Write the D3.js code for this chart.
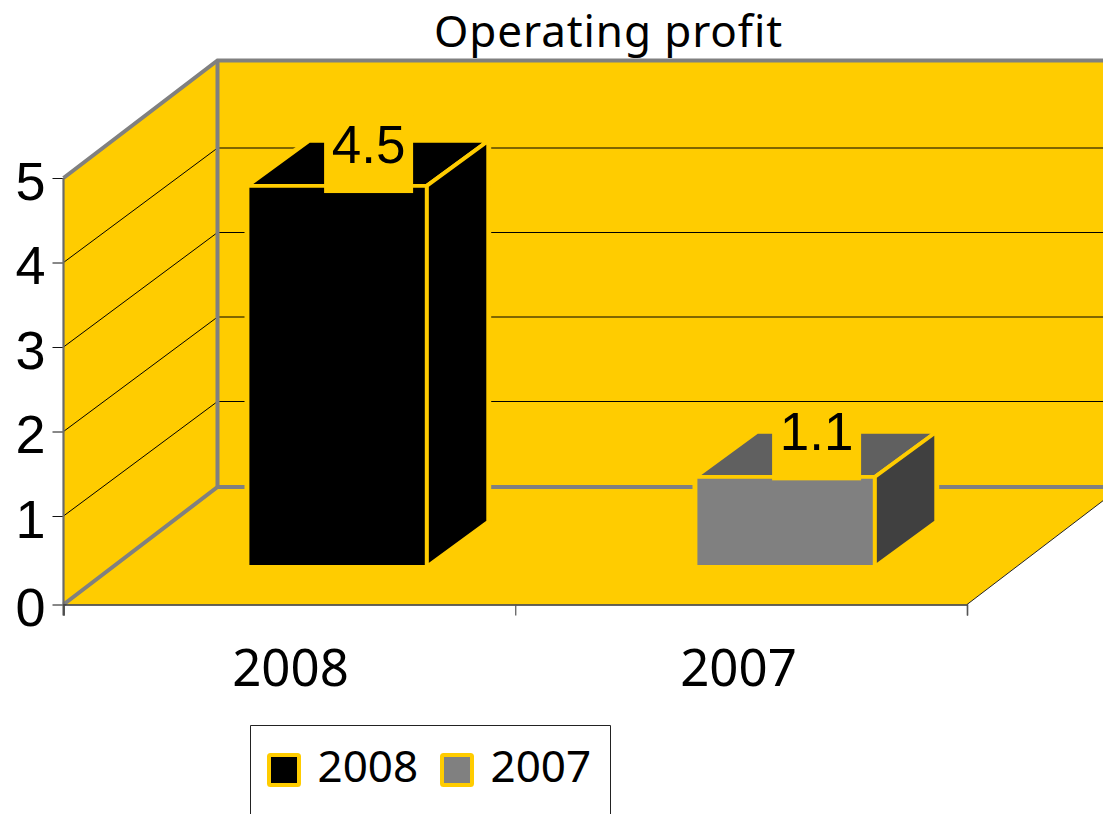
<!DOCTYPE html>
<html><head><meta charset="utf-8">
<script src="https://cdn.jsdelivr.net/npm/d3@7/dist/d3.min.js"></script>
<style>html,body{margin:0;padding:0;background:#fff;overflow:hidden}svg{display:block}
.sans{font-family:"Noto Sans",sans-serif}.arial{font-family:"Liberation Sans",Arial,sans-serif}</style>
</head><body><svg id="c" width="1103" height="814"></svg>
<script>
const categories = ["2008", "2007"];
const values = [4.45, 1.05];
const valueLabels = ["4.5", "1.1"];
const frontColors = ["#000000", "#808080"];
const topColors = ["#000000", "#606060"];
const sideColors = ["#000000", "#404040"];
const yTicks = [0, 1, 2, 3, 4, 5];
const chartTitle = "Operating profit";

const YEL = "#FFCC00", GREY = "#808080";
const svg = d3.select("#c");
const y = d3.scaleLinear().domain([0, 1, 5]).range([604.5, 516, 178]);   // tick positions
const barH = d3.scaleLinear().domain([0, 5]).range([0, 428]);            // bar heights
const xEdges = d3.scaleLinear().domain([0, 2]).range([63.5, 967]);
const xBar = d3.scaleBand().domain(categories).range([62.5, 958.5]).paddingInner(0.6).paddingOuter(0.3);
const depth = { x: 154, y: -117.5, grid: -114.5 };  // wall-depth projection
const barDepth = { x: 61.5, y: -45 };               // bar-depth projection
const barOff = { x: 50.6, y: -37.7 };               // distance of bars from the front plane
const pts = a => a.map(p => p.join(",")).join(" ");

const x0 = xEdges(0), xEnd = xEdges(2), y0 = y(0), y5 = y(5);
const bx = x0 + depth.x, by0 = y0 + depth.y, by5 = y5 + depth.y;

// walls and floor
svg.append("polygon").attr("points", pts([[x0,y5],[bx,by5],[bx,by0],[x0,y0]])).attr("fill", YEL);
svg.append("polygon").attr("points", pts([[bx,by5],[xEnd+depth.x,by5],[xEnd+depth.x,by0],[bx,by0]])).attr("fill", YEL);
svg.append("polygon").attr("points", pts([[x0,y0],[xEnd,y0],[xEnd+depth.x,by0],[bx,by0]])).attr("fill", YEL);

// gridlines
yTicks.slice(1, 5).forEach(t => {
  const yy = y(t);
  svg.append("polyline").attr("fill", "none").attr("stroke", "#000").attr("stroke-width", 1)
    .attr("points", pts([[x0,yy],[bx,yy+depth.grid],[xEnd+depth.x,yy+depth.grid]]));
});

// wall frame
[[[x0,y5],[bx,by5],[xEnd+depth.x,by5]], [[bx,by5],[bx,by0]], [[x0,y0],[bx,by0],[xEnd+depth.x,by0]]].forEach(p => {
  svg.append("polyline").attr("fill","none").attr("stroke",GREY).attr("stroke-width",4).attr("points", pts(p));
});
svg.append("line").attr("x1",xEnd).attr("y1",y0).attr("x2",xEnd+depth.x).attr("y2",by0).attr("stroke","#222").attr("stroke-width",1);

// axes
const yAxis = svg.append("g").attr("transform", `translate(${x0},0)`)
  .call(d3.axisLeft(y).tickValues(yTicks).tickSize(11).tickPadding(7).tickFormat(d3.format("d")));
yAxis.select(".domain").remove();
yAxis.selectAll("line").attr("stroke","#111").attr("stroke-width",1);
yAxis.selectAll("text").attr("class","arial").attr("font-size",54).attr("fill","#000").attr("dy",21).attr("y",0);
svg.append("line").attr("x1",x0).attr("x2",x0).attr("y1",y5).attr("y2",y0+11).attr("stroke","#6a6a6a").attr("stroke-width",2.2);
const xAxis = svg.append("g").attr("transform", `translate(0,${y0})`)
  .call(d3.axisBottom(xEdges).tickValues([0,1,2]).tickSize(11).tickFormat(""));
xAxis.select(".domain").attr("stroke","#333").attr("stroke-width",1.4);
xAxis.selectAll("line").attr("stroke","#555").attr("stroke-width",1.2);

// bars
svg.selectAll("g.bar").data(categories).join("g").attr("class","bar").each(function(c,i){
  const g = d3.select(this);
  const l = xBar(c) + barOff.x, r = l + xBar.bandwidth();
  const b = y(0) + barOff.y, t = b - barH(values[i]);
  const dx = barDepth.x, dy = barDepth.y;
  g.append("polygon").attr("points", pts([[l,b],[l,t],[l+dx,t+dy],[r+dx,t+dy],[r+dx,b+dy],[r,b]]))
    .attr("fill",YEL).attr("stroke",YEL).attr("stroke-width",6);
  const face = (p,f) => g.append("polygon").attr("points",pts(p)).attr("fill",f).attr("stroke",YEL).attr("stroke-width",3.8).attr("stroke-linejoin","round");
  face([[l,t],[l+dx,t+dy],[r+dx,t+dy],[r,t]], topColors[i]);
  face([[r,t],[r+dx,t+dy],[r+dx,b+dy],[r,b]], sideColors[i]);
  face([[l,t],[r,t],[r,b],[l,b]], frontColors[i]);
});

// data labels on yellow boxes
categories.forEach((c,i) => {
  const lx = xBar(c) + barOff.x + xBar.bandwidth()/2 + 31.5;
  const bottom = y(+valueLabels[i]) + barOff.y + 10.5;
  svg.append("rect").attr("x", lx-44.5).attr("y", bottom-78).attr("width",89).attr("height",78).attr("fill",YEL);
  svg.append("text").attr("class","arial").attr("x",lx).attr("y",bottom-30.5).attr("text-anchor","middle")
    .attr("font-size",53).attr("fill","#000").text(valueLabels[i]);
});

// category labels
svg.selectAll("text.cat").data(categories).join("text").attr("class","cat sans")
  .attr("x", c => xBar(c) + xBar.bandwidth()/2 + 4).attr("y", 686).attr("text-anchor","middle")
  .attr("font-size",51).attr("fill","#000").text(c => c);

// title
svg.append("text").attr("class","sans").attr("x",608.5).attr("y",47).attr("text-anchor","middle")
  .attr("font-size",44).attr("letter-spacing",0.9).attr("fill","#000").text(chartTitle);

// legend
svg.append("path").attr("d","M250.5,814V725.5H610.5V814").attr("fill","#fff").attr("stroke","#222").attr("stroke-width",1);
const legendX = d3.scaleOrdinal().domain(categories).range([269, 442]);
categories.forEach((c,i) => {
  svg.append("rect").attr("x",legendX(c)).attr("y",755).attr("width",30).attr("height",30).attr("rx",1.5)
    .attr("fill",frontColors[i]).attr("stroke",YEL).attr("stroke-width",4);
  svg.append("text").attr("class","sans").attr("x",legendX(c)+48.5).attr("y",782).attr("font-size",44).attr("fill","#000").text(c);
});
</script></body></html>
